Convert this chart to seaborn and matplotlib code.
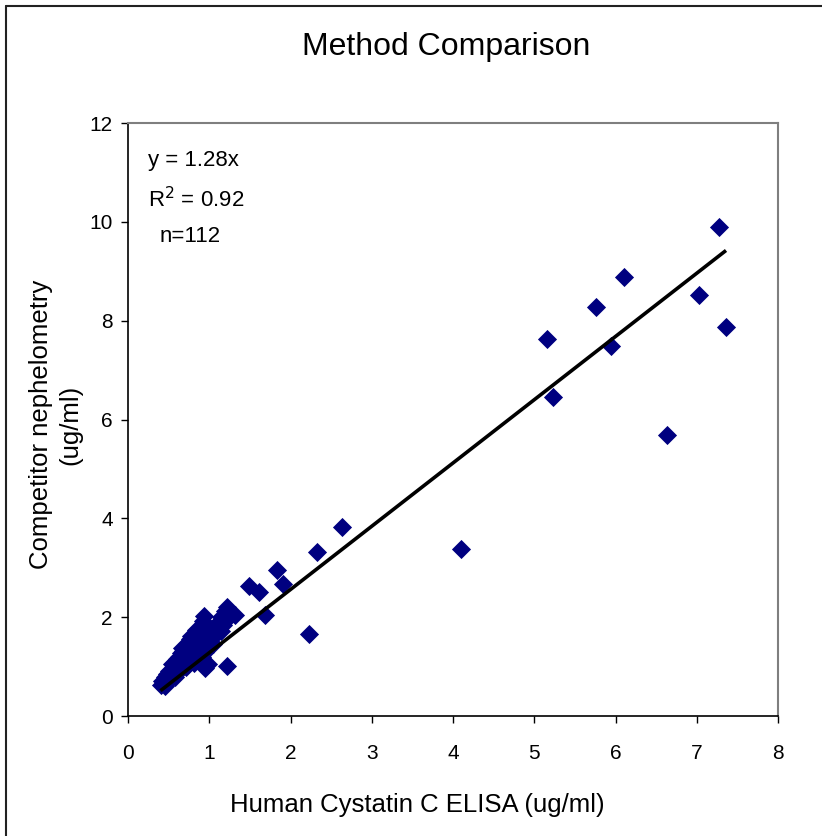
import numpy as np
import pandas as pd
import matplotlib
matplotlib.use("Agg")
import matplotlib.pyplot as plt
from matplotlib.lines import Line2D
from matplotlib import font_manager
import seaborn as sns

# ─── Data ─────────────────────────────────────────────────────────────────────

# scattered high-range samples
elisa_high = [7.27, 6.10, 5.76, 7.03, 7.36, 5.94, 5.16, 5.23, 6.63, 4.10,
              2.63, 2.33, 2.23, 1.83, 1.91, 1.49, 1.61, 1.69, 0.95, 0.98, 1.22]
neph_high  = [9.90, 8.89, 8.28, 8.52, 7.87, 7.49, 7.63, 6.46, 5.69, 3.38,
              3.83, 3.32, 1.66, 2.96, 2.67, 2.63, 2.51, 2.04, 0.98, 1.05, 1.01]

# dense low-range cluster
elisa_low = [0.40, 0.42, 0.44, 0.45, 0.47, 0.48, 0.50, 0.50, 0.52, 0.53,
             0.54, 0.55, 0.56, 0.57, 0.58, 0.59, 0.60, 0.60, 0.62, 0.62,
             0.63, 0.64, 0.65, 0.65, 0.66, 0.67, 0.68, 0.68, 0.69, 0.70,
             0.70, 0.71, 0.72, 0.72, 0.73, 0.74, 0.74, 0.75, 0.76, 0.76,
             0.77, 0.78, 0.78, 0.79, 0.80, 0.80, 0.81, 0.82, 0.82, 0.83,
             0.84, 0.85, 0.85, 0.86, 0.87, 0.88, 0.88, 0.89, 0.90, 0.90,
             0.91, 0.92, 0.92, 0.93, 0.94, 0.95, 0.95, 0.96, 0.97, 0.98,
             1.00, 1.00, 1.02, 1.04, 1.05, 1.07, 1.08, 1.10, 1.12, 1.14,
             1.15, 1.17, 1.19, 1.20, 1.22, 1.25, 1.32, 0.46, 0.58, 0.66, 0.84]
neph_low  = [0.62, 0.70, 0.66, 0.78, 0.72, 0.85, 0.80, 0.92, 0.75, 0.88,
             1.05, 0.95, 0.82, 1.00, 1.10, 0.90, 1.02, 1.15, 0.95, 1.08,
             1.20, 1.00, 1.28, 1.12, 0.98, 1.18, 1.05, 1.32, 1.22, 1.10,
             1.40, 1.00, 1.28, 1.15, 1.45, 1.20, 1.05, 1.35, 1.55, 1.12,
             1.25, 1.42, 1.62, 1.18, 1.30, 1.50, 1.08, 1.38, 1.65, 1.22,
             1.55, 1.45, 1.15, 1.32, 1.60, 1.25, 1.48, 1.70, 1.38, 1.55,
             1.20, 1.92, 1.62, 1.45, 2.02, 1.30, 1.72, 1.55, 1.40, 1.65,
             1.50, 1.78, 1.62, 1.70, 1.45, 1.82, 1.65, 1.75, 1.90, 1.72,
             2.00, 1.85, 2.12, 1.95, 2.20, 2.08, 2.05, 0.60, 0.78, 1.38, 1.75]

slope = 1.28
r2 = 0.92

x_ticks = [0, 1, 2, 3, 4, 5, 6, 7, 8]
y_ticks = [0, 2, 4, 6, 8, 10, 12]

df = pd.DataFrame({
    "elisa": elisa_high + elisa_low,
    "neph": neph_high + neph_low,
})
n_samples = len(df)

# ─── Style ────────────────────────────────────────────────────────────────────

sns.set_style("white")
installed = {f.name for f in font_manager.fontManager.ttflist}
family = "Liberation Sans Narrow" if "Liberation Sans Narrow" in installed else "Liberation Sans"
plt.rcParams["font.family"] = [family, "DejaVu Sans"]
plt.rcParams["text.color"] = "black"
plt.rcParams["axes.labelcolor"] = "black"
plt.rcParams["xtick.color"] = "black"
plt.rcParams["ytick.color"] = "black"

fig = plt.figure(figsize=(8.22, 8.36), dpi=100)
ax = fig.add_axes([128 / 822, 1 - 716 / 836, 650 / 822, 593 / 836])

sns.scatterplot(data=df, x="elisa", y="neph", marker="D", color="#000080",
                s=95, linewidth=0, ax=ax, zorder=3)

# trendline through origin, drawn across the data range
xl = np.array([df["elisa"].min(), df["elisa"].max()])
ax.plot(xl, slope * xl, color="black", lw=2.6, zorder=4, solid_capstyle="butt")

ax.set_xlim(0, 8)
ax.set_ylim(0, 12)
ax.set_xticks(x_ticks)
ax.set_yticks(y_ticks)
ax.tick_params(axis="x", which="both", bottom=True, top=False, direction="out",
               length=5, width=1, pad=15, labelsize=15)
ax.tick_params(axis="y", which="both", left=True, right=False, direction="out",
               length=5, width=1, pad=6, labelsize=15)

for side in ["left", "bottom"]:
    ax.spines[side].set_color("black")
    ax.spines[side].set_linewidth(1.2)
for side in ["top", "right"]:
    ax.spines[side].set_color("#7f7f7f")
    ax.spines[side].set_linewidth(1.5)

ax.set_xlabel("Human Cystatin C ELISA (ug/ml)", fontsize=18.5)
ax.xaxis.set_label_coords(0.445, -0.15)
ax.xaxis.label.set_va("center")
ax.set_ylabel("Competitor nephelometry\n(ug/ml)", fontsize=18.5, linespacing=1.25)
ax.yaxis.label.set_va("center")
ax.yaxis.set_label_coords(-0.111, 0.491)

ax.text(0.031, 0.937, f"y = {slope:.2f}x", transform=ax.transAxes,
        fontsize=16, va="center", ha="left")
ax.text(0.031, 0.870, f"R$^2$ = {r2:.2f}", transform=ax.transAxes,
        fontsize=16, va="center", ha="left")
ax.text(0.049, 0.809, f"n={n_samples}", transform=ax.transAxes,
        fontsize=16, va="center", ha="left")

fig.text(446 / 822, 1 - 47 / 836, "Method Comparison", fontsize=23,
         ha="center", va="center")

# chart-area frame (left and top edges are visible in the reference)
fig.add_artist(Line2D([6 / 822, 6 / 822], [0, 1 - 6 / 836], color="#222222", lw=1.5))
fig.add_artist(Line2D([6 / 822, 1], [1 - 6 / 836, 1 - 6 / 836], color="#222222", lw=1.5))

fig.savefig("out.png", dpi=100)
